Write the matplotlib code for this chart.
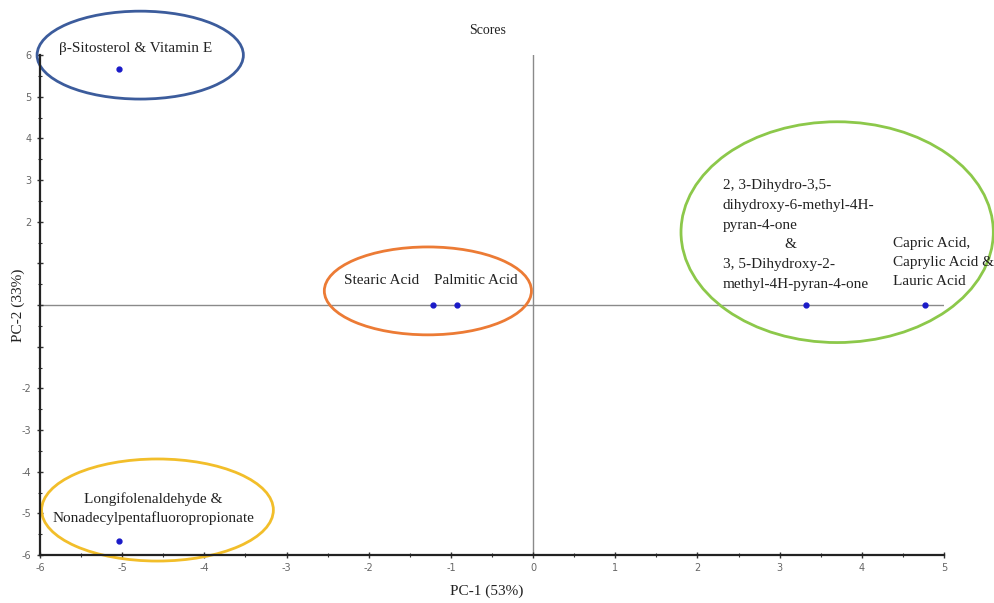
import numpy as np
import matplotlib
matplotlib.use("Agg")
from matplotlib import pyplot as plt
from matplotlib.patches import Ellipse

# score values
names = ["Sitosterol", "Longifolenaldehyde", "Stearic", "Palmitic", "Dihydro", "Capric"]
pc1 = [-5.04, -5.04, -1.22, -0.92, 3.32, 4.77]
pc2 = [5.66, -5.66, 0.0, 0.0, 0.0, 0.0]

x_ticks = [-6, -5, -4, -3, -2, -1, 0, 1, 2, 3, 4, 5]
y_ticks = [-6, -5, -4, -3, -2, -1, 0, 1, 2, 3, 4, 5, 6]
y_hidden = [-1, 0, 1]

# group labels: (text, x, y, ha, line spacing)
labels = [
    ("\u03b2-Sitosterol & Vitamin E", -4.83, 6.17, "center", 1.3),
    ("Longifolenaldehyde &\nNonadecylpentafluoropropionate", -4.62, -4.89, "center", 1.5),
    ("Stearic Acid", -1.84, 0.58, "center", 1.3),
    ("Palmitic Acid", -0.70, 0.58, "center", 1.3),
    ("2, 3-Dihydro-3,5-\ndihydroxy-6-methyl-4H-\npyran-4-one\n                &\n3, 5-Dihydroxy-2-\nmethyl-4H-pyran-4-one", 2.31, 1.68, "left", 1.68),
    ("Capric Acid,\nCaprylic Acid &\nLauric Acid", 4.38, 1.03, "left", 1.6),
]

# group ellipses: (cx, cy, w, h, colour)
groups = [
    (-4.78, 6.0, 2.51, 2.11, "#3c5c9c"),
    (-4.57, -4.92, 2.82, 2.45, "#f2be2a"),
    (-1.28, 0.34, 2.52, 2.11, "#ec7b35"),
    (3.70, 1.75, 3.80, 5.30, "#8cc84a"),
]

serif = ["Liberation Serif", "DejaVu Serif"]

fig = plt.figure(figsize=(9.94, 6.03), dpi=100)
ax = fig.add_axes([0.0402, 0.0796, 0.9095, 0.829])

ax.axhline(0, color="#8a8a8a", lw=1, zorder=1)
ax.axvline(0, color="#8a8a8a", lw=1, zorder=1)

for cx, cy, w, h, c in groups:
    ax.add_patch(Ellipse((cx, cy), w, h, fill=False, edgecolor=c, lw=2, clip_on=False, zorder=2))

ax.plot(pc1, pc2, "o", color="#1a1ac8", markersize=3.5, zorder=4, clip_on=False)

for txt, x, y, ha, ls in labels:
    ax.text(x, y, txt, ha=ha, va="center", fontsize=11, family=serif,
            color="#222222", linespacing=ls, zorder=5, clip_on=False)

ax.set_xlim(-6, 5)
ax.set_ylim(-6, 6)
ax.set_xticks(x_ticks)
ax.set_xticklabels([str(t) for t in x_ticks])
ax.set_yticks(y_ticks)
ax.set_yticklabels(["" if t in y_hidden else str(t) for t in y_ticks])
ax.set_xticks(np.arange(-5.5, 5, 1.0), minor=True)
ax.set_yticks(np.arange(-5.5, 6, 1.0), minor=True)
ax.tick_params(which="major", direction="inout", length=5, width=1, labelsize=7, labelcolor="#666666", color="#333333")
ax.tick_params(which="minor", direction="inout", length=3, width=0.8, color="#333333")

for s in ["top", "right"]:
    ax.spines[s].set_visible(False)
for s in ["left", "bottom"]:
    ax.spines[s].set_linewidth(1.6)
    ax.spines[s].set_color("#222222")

fig.text(488 / 994, 1 - 31 / 603, "Scores", ha="center", va="center", fontsize=10, family=serif, color="#222222")
fig.text(487 / 994, 1 - 591 / 603, "PC-1 (53%)", ha="center", va="center", fontsize=11, family=serif, color="#222222")
fig.text(18 / 994, 1 - 305 / 603, "PC-2 (33%)", ha="center", va="center", rotation=90, fontsize=11, family=serif, color="#222222")

fig.savefig("out.png", dpi=100)
